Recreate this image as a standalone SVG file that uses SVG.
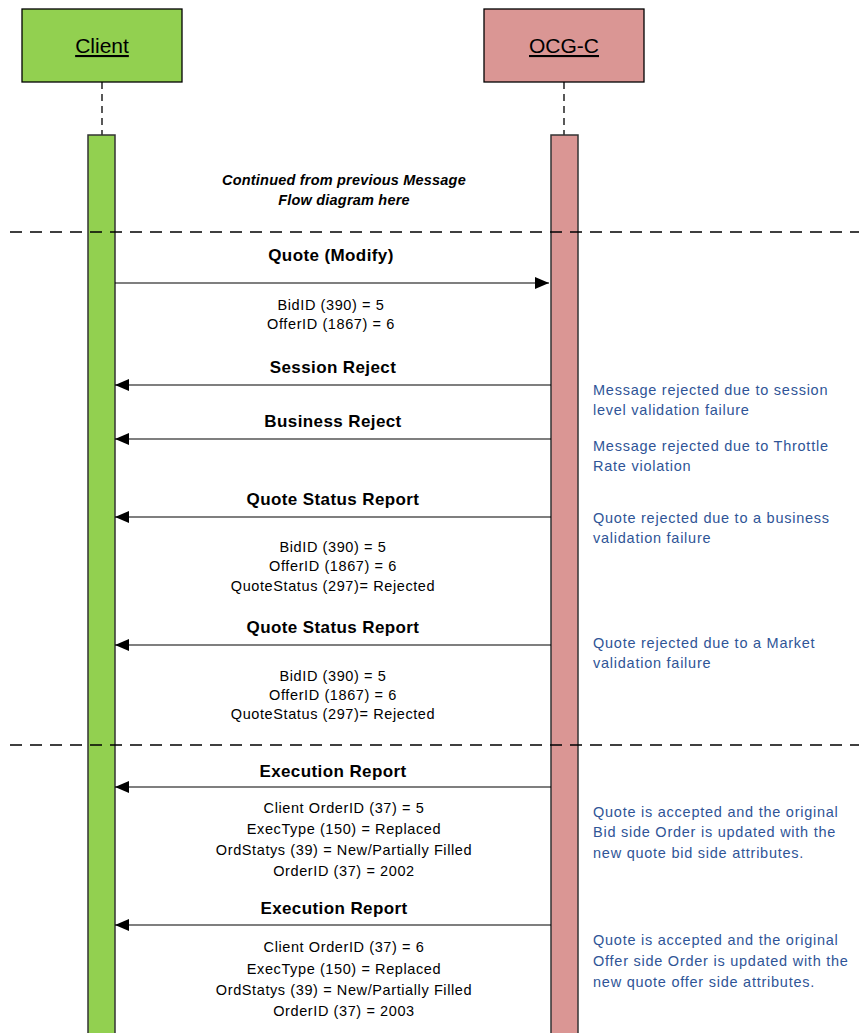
<svg xmlns="http://www.w3.org/2000/svg" width="859" height="1033" viewBox="0 0 859 1033">
<style>
.box{stroke:#000;stroke-width:1.3}
.bar{stroke:#333;stroke-width:1.5}
.life{stroke:#000;stroke-width:1.3;stroke-dasharray:7,5;fill:none}
.sep{stroke:#000;stroke-width:1.6;stroke-dasharray:12,8;fill:none}
.msg{stroke:#000;stroke-width:1.2;fill:none}
.t{font-family:"Liberation Sans",Arial,sans-serif;fill:#000}
.title{font-size:21px;text-decoration:underline;text-anchor:middle}
.lbl{font-size:17px;font-weight:bold;text-anchor:middle;letter-spacing:0.4px}
.body{font-size:14.5px;text-anchor:middle;letter-spacing:0.6px}
.ital{font-size:14.5px;font-weight:bold;font-style:italic;text-anchor:middle;letter-spacing:0.2px}
.note{font-family:"Liberation Sans",Arial,sans-serif;font-size:14.5px;fill:#2F5597;letter-spacing:0.75px}
</style>
<defs>
<marker id="ah" markerWidth="14" markerHeight="12" refX="14" refY="6" orient="auto" markerUnits="userSpaceOnUse">
<path d="M0,0 L14,6 L0,12 Z" fill="#000"/>
</marker>
</defs>
<rect width="859" height="1033" fill="#fff"/>

<g id="client">
<rect class="box" x="22" y="9" width="160" height="73" fill="#92D050"/>
<text class="t title" x="102" y="53">Client</text>
<line class="life" x1="102" y1="82" x2="102" y2="135"/>
<rect class="bar" x="88" y="135" width="27" height="905" fill="#92D050"/>
</g>

<g id="ocg">
<rect class="box" x="484" y="9" width="160" height="73" fill="#DA9694"/>
<text class="t title" x="564" y="53">OCG-C</text>
<line class="life" x1="564" y1="82" x2="564" y2="135"/>
<rect class="bar" x="551" y="135" width="27" height="905" fill="#DA9694"/>
</g>

<g id="separators">
<line class="sep" x1="10" y1="232" x2="859" y2="232"/>
<line class="sep" x1="10" y1="745" x2="859" y2="745"/>
<text class="t ital" x="344" y="185">Continued from previous Message</text>
<text class="t ital" x="344" y="205">Flow diagram here</text>
</g>

<g id="connectors">
<line class="msg" x1="115" y1="283" x2="549" y2="283" marker-end="url(#ah)"/>
<line class="msg" x1="551" y1="385" x2="115" y2="385" marker-end="url(#ah)"/>
<line class="msg" x1="551" y1="439" x2="115" y2="439" marker-end="url(#ah)"/>
<line class="msg" x1="551" y1="517" x2="115" y2="517" marker-end="url(#ah)"/>
<line class="msg" x1="551" y1="645" x2="115" y2="645" marker-end="url(#ah)"/>
<line class="msg" x1="551" y1="787" x2="115" y2="787" marker-end="url(#ah)"/>
<line class="msg" x1="551" y1="925" x2="115" y2="925" marker-end="url(#ah)"/>
</g>

<g id="m1">
<text class="t lbl" x="331" y="261">Quote (Modify)</text>
<text class="t body" x="331" y="310">BidID (390) = 5</text>
<text class="t body" x="331" y="329">OfferID (1867) = 6</text>
</g>
<g id="m2">
<text class="t lbl" x="333" y="373">Session Reject</text>
<text class="note" x="593" y="395">Message rejected due to session</text>
<text class="note" x="593" y="415">level validation failure</text>
</g>
<g id="m3">
<text class="t lbl" x="333" y="427">Business Reject</text>
<text class="note" x="593" y="451">Message rejected due to Throttle</text>
<text class="note" x="593" y="471">Rate violation</text>
</g>
<g id="m4">
<text class="t lbl" x="333" y="505">Quote Status Report</text>
<text class="t body" x="333" y="552">BidID (390) = 5</text>
<text class="t body" x="333" y="571">OfferID (1867) = 6</text>
<text class="t body" x="333" y="591">QuoteStatus (297)= Rejected</text>
<text class="note" x="593" y="523">Quote rejected due to a business</text>
<text class="note" x="593" y="543">validation failure</text>
</g>
<g id="m5">
<text class="t lbl" x="333" y="633">Quote Status Report</text>
<text class="t body" x="333" y="681">BidID (390) = 5</text>
<text class="t body" x="333" y="700">OfferID (1867) = 6</text>
<text class="t body" x="333" y="719">QuoteStatus (297)= Rejected</text>
<text class="note" x="593" y="648">Quote rejected due to a Market</text>
<text class="note" x="593" y="668">validation failure</text>
</g>
<g id="m6">
<text class="t lbl" x="333" y="777">Execution Report</text>
<text class="t body" x="344" y="813">Client OrderID (37) = 5</text>
<text class="t body" x="344" y="834">ExecType (150) = Replaced</text>
<text class="t body" x="344" y="855">OrdStatys (39) = New/Partially Filled</text>
<text class="t body" x="344" y="876">OrderID (37) = 2002</text>
<text class="note" x="593" y="817">Quote is accepted and the original</text>
<text class="note" x="593" y="837">Bid side Order is updated with the</text>
<text class="note" x="593" y="858">new quote bid side attributes.</text>
</g>
<g id="m7">
<text class="t lbl" x="334" y="914">Execution Report</text>
<text class="t body" x="344" y="952">Client OrderID (37) = 6</text>
<text class="t body" x="344" y="974">ExecType (150) = Replaced</text>
<text class="t body" x="344" y="995">OrdStatys (39) = New/Partially Filled</text>
<text class="t body" x="344" y="1016">OrderID (37) = 2003</text>
<text class="note" x="593" y="945">Quote is accepted and the original</text>
<text class="note" x="593" y="966">Offer side Order is updated with the</text>
<text class="note" x="593" y="987">new quote offer side attributes.</text>
</g>
</svg>
